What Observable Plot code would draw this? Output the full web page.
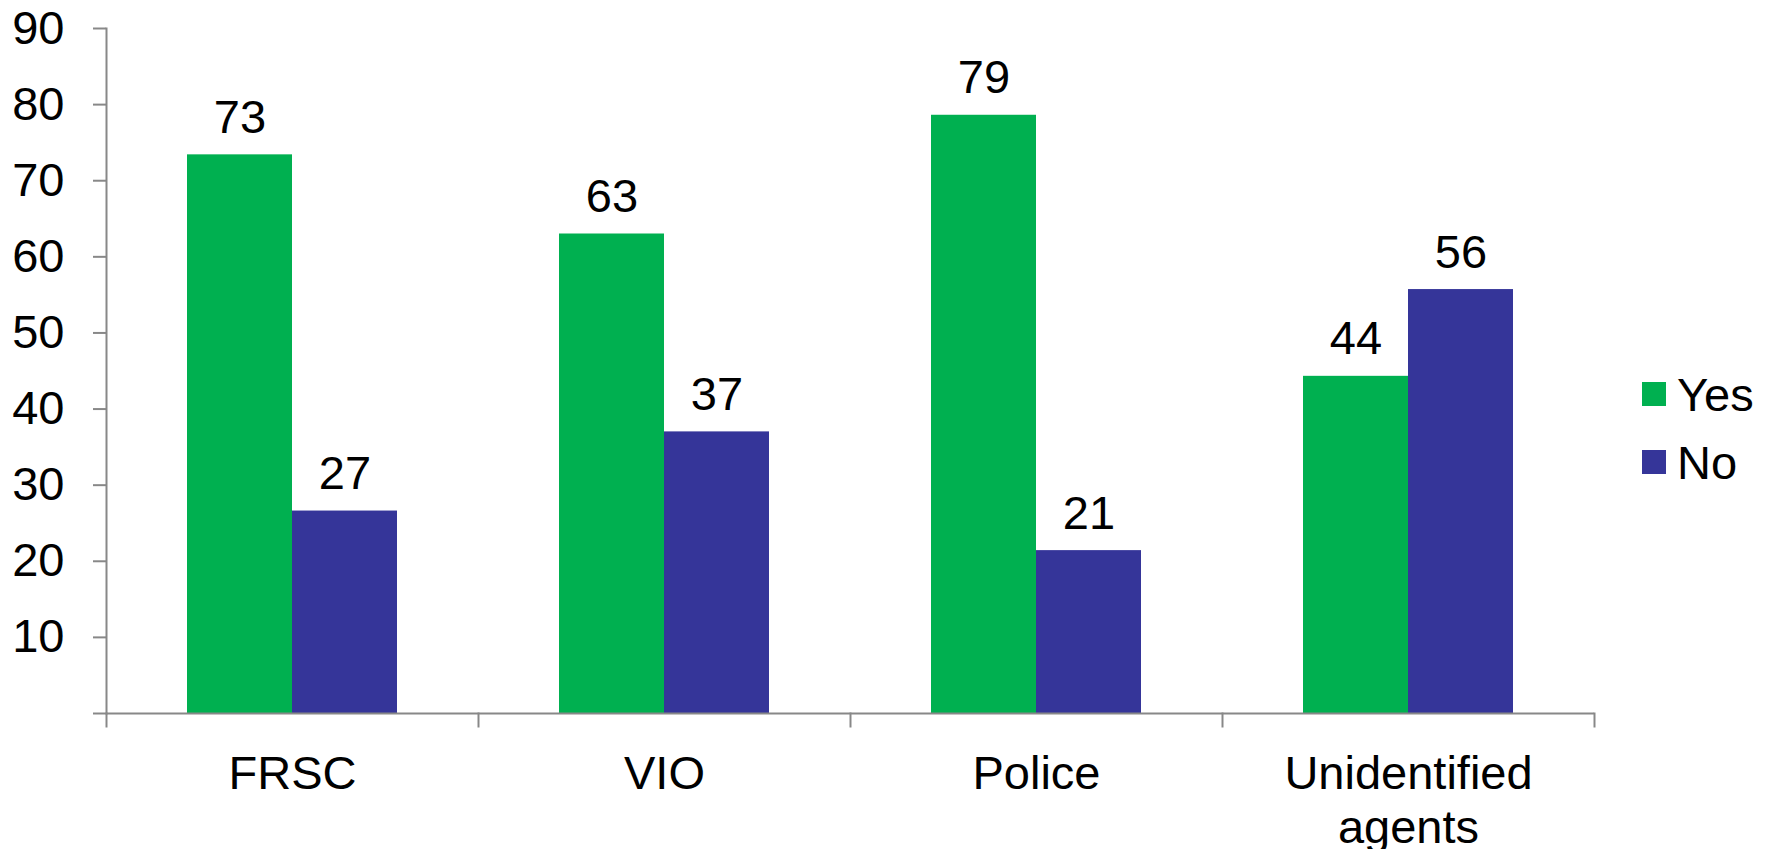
<!DOCTYPE html>
<html>
<head>
<meta charset="utf-8">
<script src="https://cdn.jsdelivr.net/npm/d3@7"></script>
<script src="https://cdn.jsdelivr.net/npm/@observablehq/plot@0.6"></script>
<style>
  html, body { margin: 0; padding: 0; background: #fff; }
  #wrap { position: relative; width: 1775px; height: 849px; font-family: "Liberation Sans", Arial, sans-serif; }
  #legend { position: absolute; left: 1642px; top: 360px; font-size: 47px; color: #000; }
  .row { display: flex; align-items: center; height: 68px; }
  .sw { width: 24px; height: 24px; margin-right: 11px; }
</style>
</head>
<body>
<div id="wrap"></div>
<script>
const categories = ["FRSC", "VIO", "Police", "Unidentified agents"];
const categoryLabels = ["FRSC", "VIO", "Police", "Unidentified\nagents"];
const series = ["Yes", "No"];
const yesValues = [73.4, 63, 78.6, 44.3];
const noValues = [26.6, 37, 21.4, 55.7];
const yTicks = [0, 10, 20, 30, 40, 50, 60, 70, 80, 90];
const colors = ["#00B050", "#353599"];

const data = [];
categories.forEach((c, i) => {
  data.push({cat: c, series: "Yes", value: yesValues[i]});
  data.push({cat: c, series: "No", value: noValues[i]});
});

const W = 1775, H = 849;
const mTop = 28, mBottom = 136, mLeft = 105, mRight = 181;
const innerH = H - mTop - mBottom;
const axisColor = "#888888";

const plot = Plot.plot({
  width: W,
  height: H,
  marginTop: mTop,
  marginBottom: mBottom,
  marginLeft: mLeft,
  marginRight: mRight,
  style: {fontFamily: '"Liberation Sans", Arial, sans-serif', fontSize: "47px", color: "#000", background: "#fff"},
  fx: {domain: categories, padding: 0, label: null},
  x: {domain: series, paddingInner: 0, paddingOuter: 0.77, axis: null},
  y: {domain: [0, 90], label: null, axis: null},
  color: {domain: series, range: colors},
  marks: [
    Plot.barY(data, {fx: "cat", x: "series", y: "value", fill: "series"}),
    Plot.ruleY([0], {stroke: axisColor, strokeWidth: 2}),
    Plot.frame({anchor: "left", facetAnchor: "left", stroke: axisColor, strokeWidth: 2}),
    Plot.frame({anchor: "left", insetTop: innerH, insetBottom: -13, stroke: axisColor, strokeWidth: 2}),
    Plot.frame({anchor: "right", facetAnchor: "right", insetTop: innerH, insetBottom: -13, stroke: axisColor, strokeWidth: 2}),
    Plot.axisY({
      ticks: yTicks,
      tickSize: 13,
      tickPadding: 29,
      tickFormat: d => d === 0 ? "" : String(d),
      stroke: axisColor,
      strokeWidth: 2,
      fill: "#000",
      fontSize: 47,
      label: null
    }),
    Plot.axisFx({
      anchor: "bottom",
      tickSize: 0,
      tickPadding: 37,
      tickFormat: d => categoryLabels[categories.indexOf(d)],
      fontSize: 47,
      lineHeight: 1.15,
      fill: "#000",
      label: null
    }),
    Plot.text(data, {
      fx: "cat", x: "series", y: "value",
      text: d => d3.format(".0f")(d.value),
      lineAnchor: "bottom",
      dy: -22,
      fontSize: 47,
      fill: "#000"
    })
  ]
});

const wrap = document.getElementById("wrap");
wrap.appendChild(plot);

const legend = document.createElement("div");
legend.id = "legend";
series.forEach((s, i) => {
  const row = document.createElement("div");
  row.className = "row";
  const sw = document.createElement("div");
  sw.className = "sw";
  sw.style.background = colors[i];
  const t = document.createElement("span");
  t.textContent = s;
  row.appendChild(sw);
  row.appendChild(t);
  legend.appendChild(row);
});
wrap.appendChild(legend);
</script>
</body>
</html>
